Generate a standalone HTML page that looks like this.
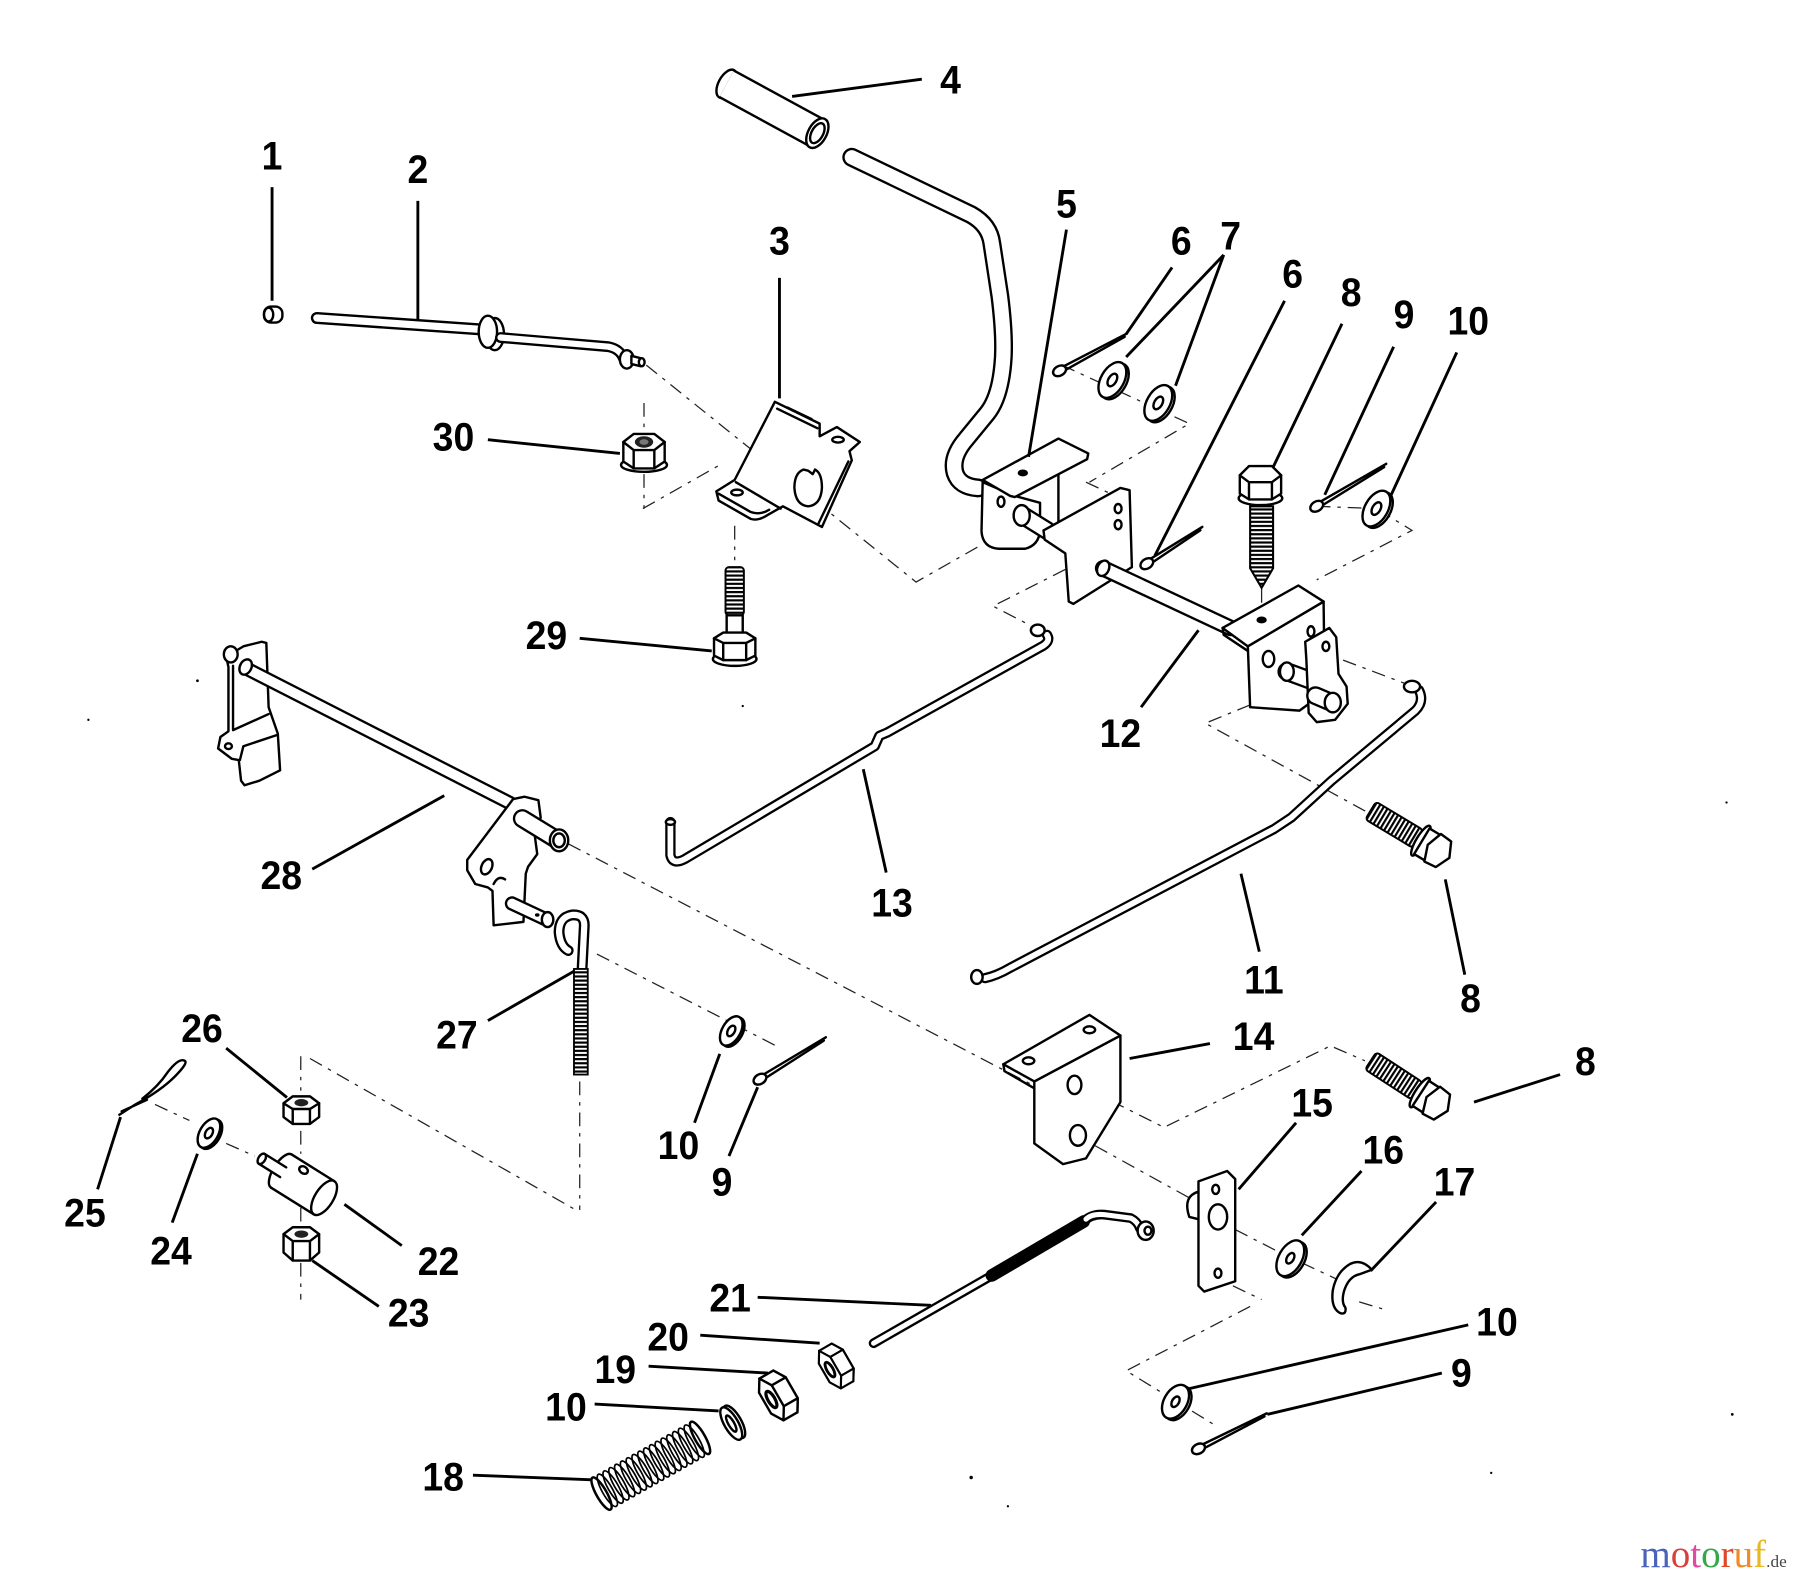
<!DOCTYPE html>
<html><head><meta charset="utf-8"><style>
html,body{margin:0;padding:0;background:#fff;}
svg{display:block;}
.p{fill:#fff;stroke:#000;stroke-width:2.1;stroke-linejoin:round}
.n{fill:none;stroke:#000;stroke-width:2.1;stroke-linecap:round;stroke-linejoin:round}
.ld{fill:none;stroke:#000;stroke-width:2.5}
.d{fill:none;stroke:#222;stroke-width:1.1;stroke-dasharray:12 6 3 6}
.k{fill:none;stroke:#000;stroke-linecap:round;stroke-linejoin:round}
.w{fill:none;stroke:#fff;stroke-linecap:round;stroke-linejoin:round}
.lb text{font-family:"Liberation Sans",Arial,sans-serif;font-weight:bold;font-size:35px;text-anchor:middle;fill:#000}
</style></head><body>
<svg width="1800" height="1582" viewBox="0 0 1568 1378" preserveAspectRatio="none" xmlns="http://www.w3.org/2000/svg">
<defs>
<pattern id="thrH" width="30" height="3.6" patternUnits="userSpaceOnUse"><rect width="30" height="3.6" fill="#fff"/><rect width="30" height="1.9" fill="#000"/></pattern>
<pattern id="thrV" width="3.6" height="40" patternUnits="userSpaceOnUse"><rect width="3.6" height="40" fill="#fff"/><rect width="1.9" height="40" fill="#000"/></pattern>
</defs>
<rect width="1568" height="1378" fill="#fff"/>

<!-- dashed lines -->
<g class="d">
<path d="M563,318 L798,507 L856,474"/>
<path d="M560,443 L627,405"/>
<path d="M561,351 L561,377 M561,413 L561,443"/>
<path d="M640,458 L640,488"/>
<path d="M925,318 L1036,369 L949,420"/>
<path d="M946,420 L976,434"/>
<path d="M928,496 L865,528 L896,544"/>
<path d="M1147,441 L1199,443 L1230,462 L1147,505"/>
<path d="M1099,513 L1099,535"/>
<path d="M1089,614 L1050,630 L1192,708"/>
<path d="M1170,575 L1223,595"/>
<path d="M495,735 L905,948"/>
<path d="M954,998 L1039,1045"/>
<path d="M1076,1071 L1111,1089 M1134,1100 L1164,1114 M1184,1134 L1204,1140"/>
<path d="M944,947 L1014,982 L1159,911 L1189,924"/>
<path d="M520,831 L680,913"/>
<path d="M505,942 L505,1054"/>
<path d="M270,922 L500,1053"/>
<path d="M135,962 L165,976 M197,996 L222,1007"/>
<path d="M262,920 L262,950 M262,985 L262,1005 M262,1025 L262,1065 M262,1100 L262,1132"/>
<path d="M1074,1120 L1099,1132"/>
<path d="M1089,1138 L981,1194 L1061,1243"/>
</g>

<!-- Part 1 -->
<rect class="p" x="230" y="267" width="16" height="14" rx="6"/>
<ellipse class="p" cx="234" cy="274" rx="4" ry="6"/>

<!-- Part 2 -->
<path class="k" stroke-width="10.5" d="M276,277 L420,287"/>
<path class="w" stroke-width="6.3" d="M276,277 L420,287"/>
<ellipse class="p" cx="431" cy="291" rx="8" ry="14"/>
<ellipse class="p" cx="425" cy="289" rx="8" ry="14"/>
<path class="k" stroke-width="9.5" d="M436,294 L530,302 Q540,304 543,312"/>
<path class="w" stroke-width="5.4" d="M436,294 L530,302 Q540,304 543,312"/>
<ellipse class="p" cx="546" cy="313" rx="6" ry="8"/>
<path class="p" d="M550,310 L558,312 L558,319 L550,317 Z"/>
<ellipse class="p" cx="559" cy="315.5" rx="2.5" ry="3.5"/>

<!-- Part 3 -->
<path class="p" d="M675,350 L714,369 L714,380 L729,372 L749,385 L740,393 L742,401 L716,459 L682,441 L668,449 Q660,454 654,452 L626,436 L624,428 L640,418 Z"/>
<path class="n" d="M641,420 L680,443 M677,356 L712,373 M686,355 L707,365 M739,402 L713,456 M626,430 L654,446 Q662,449 670,444"/>
<ellipse class="p" cx="642" cy="429" rx="5" ry="2.5"/>
<ellipse class="p" cx="730" cy="383" rx="5" ry="2.5"/>
<path class="p" d="M700,409 Q692,412 692,425 Q693,440 704,441 Q715,440 716,425 Q716,412 710,409 L708,413 L704,410 Z"/>

<!-- Part 30 nut -->
<ellipse class="p" cx="561" cy="405" rx="20" ry="6"/>
<path class="p" d="M543,385 L543,402 L552,408 L570,408 L579,402 L579,385 Z"/>
<path class="p" d="M543,385 L552,378 L570,378 L579,385 L570,392 L552,392 Z"/>
<path class="n" d="M552,392 L552,408 M570,392 L570,408"/>
<ellipse cx="561" cy="385" rx="8" ry="5" fill="#222"/>
<ellipse cx="561" cy="385" rx="4" ry="2.5" fill="#777"/>

<!-- Part 29 bolt -->
<rect x="632" y="494" width="16" height="42" fill="url(#thrH)" stroke="#000" stroke-width="1.7" rx="3"/>
<rect class="p" x="633" y="536" width="14" height="17"/>
<ellipse class="p" cx="640" cy="574" rx="19" ry="6"/>
<path class="p" d="M622,556 L630,551 L650,551 L658,556 L658,571 L650,575 L630,575 L622,571 Z"/>
<path class="n" d="M622,556 L630,560 L650,560 L658,556 M630,560 L630,575 M650,560 L650,575"/>

<!-- Part 4 grip tube -->
<ellipse class="p" cx="633" cy="73" rx="7" ry="13.5" transform="rotate(28.6 633 73)"/>
<path d="M633,73 L712,116" stroke="#000" stroke-width="28.4" fill="none"/>
<path d="M633,73 L712,116" stroke="#fff" stroke-width="24.2" fill="none"/>
<ellipse class="p" cx="712" cy="116" rx="8" ry="14" transform="rotate(28.6 712 116)"/>
<ellipse class="p" cx="712" cy="116" rx="5" ry="9.5" transform="rotate(28.6 712 116)"/>

<!-- Lever rod -->
<path class="k" stroke-width="16.5" d="M742,137 L846,187 Q862,196 864,212 L871,258 Q875,290 874,311 Q872,345 860,360 L842,382 Q828,398 832,412 Q836,424 852,425"/>
<path class="w" stroke-width="12.4" d="M742,137 L846,187 Q862,196 864,212 L871,258 Q875,290 874,311 Q872,345 860,360 L842,382 Q828,398 832,412 Q836,424 852,425"/>

<!-- Bracket 5 -->
<path class="p" d="M856,420 L855,463 Q856,477 870,478 L893,478 Q905,475 906,462 L906,438 L884,432 Z"/>
<path class="n" d="M922,413 L922,456"/>
<path class="p" d="M856,418 L922,382 L948,395 L947,400 L884,433 L880,432 Z"/>
<ellipse cx="891" cy="412" rx="4.5" ry="3" fill="#000"/>
<ellipse class="p" cx="872" cy="437" rx="3" ry="4.5"/>
<path class="k" stroke-width="16.5" d="M891,449 L912,462"/>
<path class="w" stroke-width="12.4" d="M891,449 L912,462"/>
<ellipse class="p" cx="890" cy="449" rx="7" ry="9" stroke-width="2.8"/>

<!-- Middle plate -->
<path class="p" d="M909,462 L976,425 L984,427 L986,494 L935,526 L931,524 L928,482 L910,470 Z"/>
<ellipse class="p" cx="974" cy="443" rx="3" ry="4"/>
<ellipse class="p" cx="974" cy="457" rx="3" ry="4"/>

<!-- Shaft 12 -->
<path class="k" stroke-width="14.5" d="M961,495 L1072,547"/>
<path class="w" stroke-width="10.4" d="M961,495 L1072,547"/>
<ellipse class="p" cx="961" cy="495" rx="5" ry="7" transform="rotate(25 961 495)"/>

<!-- Right bracket -->
<path class="p" d="M1087,563 L1089,616 L1132,619 L1154,603 L1153,524 Z"/>
<path class="p" d="M1065,547 L1131,510 L1153,524 L1087,563 Z"/>
<path class="n" d="M1065,547 L1066,553 L1087,567"/>
<ellipse cx="1099" cy="540" rx="4.5" ry="3" fill="#000"/>
<ellipse class="p" cx="1105" cy="574" rx="5" ry="7"/>
<ellipse class="p" cx="1142" cy="550" rx="3" ry="4.5"/>
<path class="k" stroke-width="16.5" d="M1121,585 L1140,592"/>
<path class="w" stroke-width="12.4" d="M1121,585 L1140,592"/>
<ellipse class="p" cx="1121" cy="585" rx="6" ry="8" stroke-width="2.6"/>
<path class="p" d="M1138,575 L1137,559 L1158,547 L1164,555 L1166,587 L1173,598 L1174,613 L1163,627 L1147,629 L1140,621 Z"/>
<ellipse class="p" cx="1155" cy="563" rx="3" ry="4"/>
<path class="k" stroke-width="16.5" d="M1146,606 L1160,612"/>
<path class="w" stroke-width="12.4" d="M1146,606 L1160,612"/>
<ellipse class="p" cx="1161" cy="612" rx="7" ry="8.5"/>

<!-- Bolt 8 (vertical) -->
<ellipse class="p" cx="1098" cy="434" rx="19" ry="6"/>
<path class="p" d="M1080,414 L1088,406 L1108,406 L1116,414 L1116,430 L1108,435 L1088,435 L1080,430 Z"/>
<path class="n" d="M1080,414 L1088,420 L1108,420 L1116,414 M1088,420 L1088,435 M1108,420 L1108,435"/>
<path d="M1089,441 L1109,441 L1109,495 L1099,512 L1089,495 Z" fill="url(#thrH)" stroke="#000" stroke-width="1.8"/>

<!-- cotter pins -->
<g transform="translate(923,323) rotate(-28.5)"><path class="n" d="M5,-1.8 L67,-0.5 M5,1.8 L64,1"/><ellipse class="p" rx="6" ry="4.2"/></g>
<g transform="translate(999,491) rotate(-33)"><path class="n" d="M5,-1.8 L58,-0.5 M5,1.8 L55,1"/><ellipse class="p" rx="6" ry="4.2"/></g>
<g transform="translate(1147,441) rotate(-31)"><path class="n" d="M5,-1.8 L71,-0.5 M5,1.8 L68,1"/><ellipse class="p" rx="6" ry="4.2"/></g>
<g transform="translate(662,940) rotate(-32)"><path class="n" d="M5,-1.8 L68,-0.5 M5,1.8 L65,1"/><ellipse class="p" rx="6" ry="4.2"/></g>
<g transform="translate(1044,1262) rotate(-27)"><path class="n" d="M5,-1.8 L67,-0.5 M5,1.8 L64,1"/><ellipse class="p" rx="6" ry="4.2"/></g>

<!-- washers -->
<g transform="translate(969,331) rotate(30)"><ellipse class="p" cx="2.5" rx="10" ry="17"/><ellipse class="p" rx="10" ry="17"/><ellipse class="p" rx="3.5" ry="6"/></g>
<g transform="translate(1009,351) rotate(30)"><ellipse class="p" cx="2.5" rx="10" ry="17"/><ellipse class="p" rx="10" ry="17"/><ellipse class="p" rx="3.5" ry="6"/></g>
<g transform="translate(1199,443) rotate(30)"><ellipse class="p" cx="2.5" rx="10" ry="17"/><ellipse class="p" rx="10" ry="17"/><ellipse class="p" rx="3.5" ry="6"/></g>
<g transform="translate(637,898) rotate(30)"><ellipse class="p" cx="2" rx="8" ry="14"/><ellipse class="p" rx="8" ry="14"/><ellipse class="p" rx="3" ry="5"/></g>
<g transform="translate(182,987) rotate(30)"><ellipse class="p" cx="2" rx="8" ry="14"/><ellipse class="p" rx="8" ry="14"/><ellipse class="p" rx="3" ry="5"/></g>
<g transform="translate(1124,1096) rotate(30)"><ellipse class="p" cx="2.5" rx="10" ry="17"/><ellipse class="p" rx="10" ry="17"/><ellipse class="p" rx="3" ry="5"/></g>
<g transform="translate(1024,1221) rotate(30)"><ellipse class="p" cx="2.5" rx="10" ry="16"/><ellipse class="p" rx="10" ry="16"/><ellipse class="p" rx="3" ry="5"/></g>
<g transform="translate(637,1240) rotate(-30)"><ellipse class="p" cx="3" rx="6" ry="16"/><ellipse class="p" rx="6" ry="16"/><ellipse class="p" rx="2.5" ry="8"/></g>

<!-- Part 13 rod -->
<path class="k" stroke-width="9" d="M912,553 Q916,559 906,564 L773,638 L766,641 L762,650 L597,748 Q586,754 584,745 L584,716"/>
<path class="w" stroke-width="5" d="M912,553 Q916,559 906,564 L773,638 L766,641 L762,650 L597,748 Q586,754 584,745 L584,716"/>
<ellipse class="p" cx="904" cy="549" rx="6" ry="5"/>
<ellipse class="p" cx="584" cy="716" rx="4" ry="2.5"/>

<!-- Part 11 rod -->
<path class="k" stroke-width="9" d="M1236,601 Q1241,611 1233,619 L1160,680 L1125,712 L1110,722 L880,843 Q868,850 858,852"/>
<path class="w" stroke-width="5" d="M1236,601 Q1241,611 1233,619 L1160,680 L1125,712 L1110,722 L880,843 Q868,850 858,852"/>
<ellipse class="p" cx="1230" cy="598" rx="7" ry="5"/>
<ellipse class="p" cx="851" cy="851" rx="5" ry="6"/>

<!-- Part 28 -->
<path class="p" d="M197,572 L212,563 L228,559 L232,560 L234,616 L242,639 L244,671 L226,680 L213,684 L210,680 L208,662 L202,661 L190,652 L192,642 L199,637 L199,581 Z"/>
<path class="n" d="M203,580 L203,636 L234,622 M209,662 L212,650 L242,640"/>
<ellipse class="p" cx="199" cy="650" rx="3" ry="2.5"/>
<ellipse class="p" cx="201" cy="570" rx="6" ry="7"/>
<path class="k" stroke-width="12.5" d="M214,582 L455,705"/>
<path class="w" stroke-width="8.4" d="M214,582 L455,705"/>
<ellipse class="p" cx="214" cy="581" rx="5" ry="7" transform="rotate(27 214 581)"/>
<path class="p" d="M407,749 L447,696 L457,694 L469,697 L471,712 L466,729 L468,744 L460,755 L458,761 L456,803 L430,806 L429,776 L425,773 L414,770 L407,758 Z"/>
<ellipse class="p" cx="424" cy="755" rx="4.5" ry="7" transform="rotate(25 424 755)"/>
<path class="n" d="M430,770 Q434,762 440,766"/>
<path class="k" stroke-width="16.5" d="M455,713 L486,732"/>
<path class="w" stroke-width="12.4" d="M455,713 L486,732"/>
<ellipse class="p" cx="487" cy="732" rx="8" ry="9.5" stroke-width="2.8"/>
<ellipse class="p" cx="487" cy="732" rx="5" ry="6"/>
<path class="k" stroke-width="12.5" d="M446,787 L476,801"/>
<path class="w" stroke-width="8.4" d="M446,787 L476,801"/>
<ellipse class="p" cx="477" cy="801" rx="5" ry="6.5"/>
<ellipse cx="468" cy="797" rx="2" ry="1.5" fill="#000"/>

<!-- Part 27 -->
<path class="k" stroke-width="9.5" d="M507,845 L509,806 Q509,796 498,797 Q487,799 487,812 Q488,824 495,828"/>
<path class="w" stroke-width="5.4" d="M507,845 L509,806 Q509,796 498,797 Q487,799 487,812 Q488,824 495,828"/>
<rect x="500" y="844" width="12" height="92" fill="url(#thrH)" stroke="#000" stroke-width="1.6"/>

<!-- Part 14 -->
<path class="p" d="M901,942 L901,996 L926,1014 L946,1009 L976,960 L976,902 Z"/>
<path class="p" d="M874,927 L949,884 L976,902 L901,942 Z"/>
<path class="n" d="M874,927 L875,933 L901,948"/>
<ellipse class="p" cx="896" cy="924" rx="5" ry="3"/>
<ellipse class="p" cx="949" cy="897" rx="5" ry="3"/>
<ellipse class="p" cx="936" cy="945" rx="6" ry="8" stroke-width="2.8"/>
<ellipse class="p" cx="939" cy="989" rx="7" ry="9"/>

<!-- Bolts 8 (angled) -->
<g transform="translate(1194,706) rotate(31)">
<rect x="0" y="-9" width="48" height="18" rx="3" fill="url(#thrV)" stroke="#000" stroke-width="1.7"/>
<ellipse class="p" cx="51" cy="0" rx="4" ry="15"/>
<rect class="p" x="52" y="-13" width="14" height="26"/>
<path class="p" d="M63,-14 L74,-13 L80,0 L74,13 L63,14 L58,0 Z"/>
</g>
<g transform="translate(1194,924) rotate(33)">
<rect x="0" y="-9" width="48" height="18" rx="3" fill="url(#thrV)" stroke="#000" stroke-width="1.7"/>
<ellipse class="p" cx="51" cy="0" rx="4" ry="15"/>
<rect class="p" x="52" y="-13" width="14" height="26"/>
<path class="p" d="M63,-14 L74,-13 L80,0 L74,13 L63,14 L58,0 Z"/>
</g>

<!-- Part 15 -->
<path class="n" d="M1044,1038 Q1030,1042 1036,1060 L1044,1062"/>
<path class="p" d="M1044,1029 L1069,1020 L1076,1027 L1076,1116 L1049,1125 L1044,1120 Z"/>
<ellipse class="p" cx="1059" cy="1036" rx="3" ry="4"/>
<ellipse class="p" cx="1061" cy="1060" rx="8" ry="11" stroke-width="2.8"/>
<ellipse class="p" cx="1061" cy="1109" rx="3" ry="4"/>

<!-- E-clip 17 -->
<path class="n" stroke-width="2.2" d="M1195,1106 Q1186,1096 1176,1101 Q1164,1108 1161,1124 Q1159,1140 1168,1144 Q1173,1145 1172,1139 Q1168,1134 1171,1124 Q1175,1112 1184,1110 Z"/>

<!-- Part 26 nut -->
<path class="p" d="M247,961 L247,973 L255,979 L270,979 L278,973 L278,961 Z"/>
<path class="p" d="M247,961 L255,955 L270,955 L278,961 L270,966 L255,966 Z"/>
<path class="n" d="M255,966 L255,979 M270,966 L270,979"/>
<ellipse cx="262.5" cy="960.5" rx="6" ry="3.2" fill="#222"/>

<!-- Part 23 nut -->
<path class="p" d="M247,1075 L247,1091 L255,1098 L270,1098 L278,1091 L278,1075 Z"/>
<path class="p" d="M247,1075 L255,1069 L270,1069 L278,1075 L270,1081 L255,1081 Z"/>
<path class="n" d="M255,1081 L255,1098 M270,1081 L270,1098"/>
<ellipse cx="262.5" cy="1075" rx="6" ry="3.2" fill="#222"/>

<!-- Part 22 -->
<g transform="translate(245,1020) rotate(32)">
<ellipse class="p" cx="0" cy="0" rx="7" ry="17"/>
<rect x="0" y="-17" width="44" height="34" fill="#fff"/>
<path class="n" d="M0,-17 L44,-17 M0,17 L44,17"/>
<ellipse class="p" cx="44" cy="0" rx="8" ry="17"/>
<rect x="-20" y="-5" width="22" height="10" fill="#fff"/>
<path class="n" d="M-20,-5 L2,-5 M-20,5 L2,5"/>
<ellipse class="p" cx="-20" cy="0" rx="3" ry="5"/>
<ellipse class="p" cx="16" cy="-11" rx="4" ry="3"/>
</g>

<!-- Part 25 hairpin -->
<path class="n" d="M104,971 L118,962 Q140,950 152,938 Q164,926 161,924 Q156,921 146,934 Q138,946 124,957 M106,968 L128,958"/>

<!-- Part 21 rod -->
<path class="k" stroke-width="8.5" d="M761,1170 L864,1111"/>
<path class="w" stroke-width="4.4" d="M761,1170 L864,1111"/>
<path class="k" stroke-width="11" stroke-linecap="butt" d="M864,1111 L944,1064"/>
<path class="k" stroke-width="8.5" d="M944,1064 Q951,1057 962,1058 L985,1061 Q991,1064 993,1070"/>
<path class="w" stroke-width="4.4" d="M946,1062 Q951,1057 962,1058 L985,1061 Q991,1064 993,1070"/>
<ellipse class="p" cx="998" cy="1072" rx="7" ry="8"/>
<ellipse class="p" cx="1000" cy="1072" rx="3" ry="3.5"/>

<!-- Nut 20 -->
<g transform="translate(723,1193) rotate(-30) scale(0.9)">
<path class="p" d="M20.4,-10.5 L14,-21 L7.6,-10.5 L7.6,10.5 L14,21 L20.4,10.5 Z"/>
<path class="p" d="M0,-21 L14,-21 L20.4,-10.5 L20.4,10.5 L14,21 L0,21 Z"/>
<path class="p" d="M6.4,-10.5 L0,-21 L-6.4,-10.5 L-6.4,10.5 L0,21 L6.4,10.5 Z"/>
<path class="n" d="M6.4,-10.5 L20.4,-10.5 M6.4,10.5 L20.4,10.5"/>
<ellipse cx="0" cy="0" rx="3" ry="8" fill="none" stroke="#000" stroke-width="2.8"/>
</g>
<!-- Nut 19 -->
<g transform="translate(672,1219) rotate(-30)">
<path class="p" d="M20.4,-10.5 L14,-21 L7.6,-10.5 L7.6,10.5 L14,21 L20.4,10.5 Z"/>
<path class="p" d="M0,-21 L14,-21 L20.4,-10.5 L20.4,10.5 L14,21 L0,21 Z"/>
<path class="p" d="M6.4,-10.5 L0,-21 L-6.4,-10.5 L-6.4,10.5 L0,21 L6.4,10.5 Z"/>
<path class="n" d="M6.4,-10.5 L20.4,-10.5 M6.4,10.5 L20.4,10.5"/>
<ellipse cx="0" cy="0" rx="3" ry="8" fill="none" stroke="#000" stroke-width="2.8"/>
</g>

<!-- Spring 18 -->
<g transform="translate(524,1301) rotate(-29.5)" fill="none" stroke="#000" stroke-width="1.5">
<ellipse cx="0" rx="4.5" ry="16" stroke-width="2.2"/><ellipse cx="5.8" rx="4.5" ry="16"/><ellipse cx="11.6" rx="4.5" ry="16"/><ellipse cx="17.4" rx="4.5" ry="16"/><ellipse cx="23.2" rx="4.5" ry="16"/><ellipse cx="29" rx="4.5" ry="16"/><ellipse cx="34.8" rx="4.5" ry="16"/><ellipse cx="40.6" rx="4.5" ry="16"/><ellipse cx="46.4" rx="4.5" ry="16"/><ellipse cx="52.2" rx="4.5" ry="16"/><ellipse cx="58" rx="4.5" ry="16"/><ellipse cx="63.8" rx="4.5" ry="16"/><ellipse cx="69.6" rx="4.5" ry="16"/><ellipse cx="75.4" rx="4.5" ry="16"/><ellipse cx="81.2" rx="4.5" ry="16"/><ellipse cx="87" rx="4.5" ry="16"/><ellipse cx="92.8" rx="4.5" ry="16"/><ellipse cx="98.6" rx="4.5" ry="16" stroke-width="2.2"/>
</g>

<!-- stray dots -->
<g fill="#000">
<circle cx="846" cy="1287" r="1.5"/><circle cx="878" cy="1312" r="1"/><circle cx="1509" cy="1232" r="1.2"/><circle cx="1504" cy="699" r="1"/><circle cx="1299" cy="1283" r="1"/><circle cx="172" cy="593" r="1.2"/><circle cx="77" cy="627" r="1"/><circle cx="647" cy="615" r="1"/>
</g>

<!-- leader lines -->
<g class="ld">
<path d="M237,163 L237,262"/>
<path d="M364,175 L364,278"/>
<path d="M679,242 L679,347"/>
<path d="M690,84 L803,69"/>
<path d="M929,200 L896,398"/>
<path d="M1021,233 L981,291"/>
<path d="M1066,222 L981,311 M1066,222 L1024,336"/>
<path d="M1119,262 L1006,484"/>
<path d="M1169,282 L1109,407"/>
<path d="M1214,302 L1154,431"/>
<path d="M1269,307 L1211,433"/>
<path d="M425,383 L540,395"/>
<path d="M505,556 L620,567"/>
<path d="M1044,549 L994,616"/>
<path d="M752,670 L772,760"/>
<path d="M272,757 L387,693"/>
<path d="M425,889 L500,846"/>
<path d="M1081,761 L1097,829"/>
<path d="M1259,766 L1276,849"/>
<path d="M984,922 L1054,909"/>
<path d="M1284,960 L1359,936"/>
<path d="M197,913 L250,956"/>
<path d="M1079,1036 L1129,978"/>
<path d="M1134,1076 L1186,1020"/>
<path d="M1194,1107 L1251,1047"/>
<path d="M627,918 L605,978"/>
<path d="M660,947 L635,1007"/>
<path d="M105,973 L85,1036"/>
<path d="M172,1005 L150,1065"/>
<path d="M300,1049 L350,1085"/>
<path d="M272,1098 L330,1138"/>
<path d="M660,1130 L811,1137"/>
<path d="M610,1163 L714,1170"/>
<path d="M565,1190 L669,1196"/>
<path d="M518,1223 L626,1229"/>
<path d="M412,1285 L516,1289"/>
<path d="M1034,1210 L1279,1154"/>
<path d="M1104,1232 L1256,1196"/>
</g>

<!-- labels -->
<g class="lb">
<text transform="translate(237,147.5) scale(0.93,1)">1</text>
<text transform="translate(364,159.5) scale(0.93,1)">2</text>
<text transform="translate(679,221.5) scale(0.93,1)">3</text>
<text transform="translate(828,81.5) scale(0.93,1)">4</text>
<text transform="translate(929,189.5) scale(0.93,1)">5</text>
<text transform="translate(1029,221.5) scale(0.93,1)">6</text>
<text transform="translate(1072,217.5) scale(0.93,1)">7</text>
<text transform="translate(1126,250.5) scale(0.93,1)">6</text>
<text transform="translate(1177,266.5) scale(0.93,1)">8</text>
<text transform="translate(1223,285.5) scale(0.93,1)">9</text>
<text transform="translate(1279,291.5) scale(0.93,1)">10</text>
<text transform="translate(395,392.5) scale(0.93,1)">30</text>
<text transform="translate(476,565.5) scale(0.93,1)">29</text>
<text transform="translate(976,650.5) scale(0.93,1)">12</text>
<text transform="translate(777,798.5) scale(0.93,1)">13</text>
<text transform="translate(245,774.5) scale(0.93,1)">28</text>
<text transform="translate(398,913.5) scale(0.93,1)">27</text>
<text transform="translate(1101,865.5) scale(0.93,1)">11</text>
<text transform="translate(1281,881.5) scale(0.93,1)">8</text>
<text transform="translate(1092,914.5) scale(0.93,1)">14</text>
<text transform="translate(1381,936.5) scale(0.93,1)">8</text>
<text transform="translate(176,907.5) scale(0.93,1)">26</text>
<text transform="translate(1143,972.5) scale(0.93,1)">15</text>
<text transform="translate(1205,1013.5) scale(0.93,1)">16</text>
<text transform="translate(1267,1041.5) scale(0.93,1)">17</text>
<text transform="translate(591,1009.5) scale(0.93,1)">10</text>
<text transform="translate(629,1041.5) scale(0.93,1)">9</text>
<text transform="translate(74,1068.5) scale(0.93,1)">25</text>
<text transform="translate(149,1101.5) scale(0.93,1)">24</text>
<text transform="translate(382,1110.5) scale(0.93,1)">22</text>
<text transform="translate(356,1155.5) scale(0.93,1)">23</text>
<text transform="translate(636,1142.5) scale(0.93,1)">21</text>
<text transform="translate(582,1176.5) scale(0.93,1)">20</text>
<text transform="translate(536,1204.5) scale(0.93,1)">19</text>
<text transform="translate(1304,1163.5) scale(0.93,1)">10</text>
<text transform="translate(1273,1207.5) scale(0.93,1)">9</text>
<text transform="translate(493,1237.5) scale(0.93,1)">10</text>
<text transform="translate(386,1298.5) scale(0.93,1)">18</text>
</g>

<!-- logo -->
<text x="1429" y="1365" style="font-family:'Liberation Serif','DejaVu Serif',serif;font-size:34px;"><tspan fill="#4a62b8">m</tspan><tspan fill="#d8413b">o</tspan><tspan fill="#e04aa0">t</tspan><tspan fill="#36a84a">o</tspan><tspan fill="#e0482a">r</tspan><tspan fill="#f08a24">u</tspan><tspan fill="#e8b820">f</tspan><tspan fill="#444" font-size="15">.de</tspan></text>
</svg>
</body></html>
